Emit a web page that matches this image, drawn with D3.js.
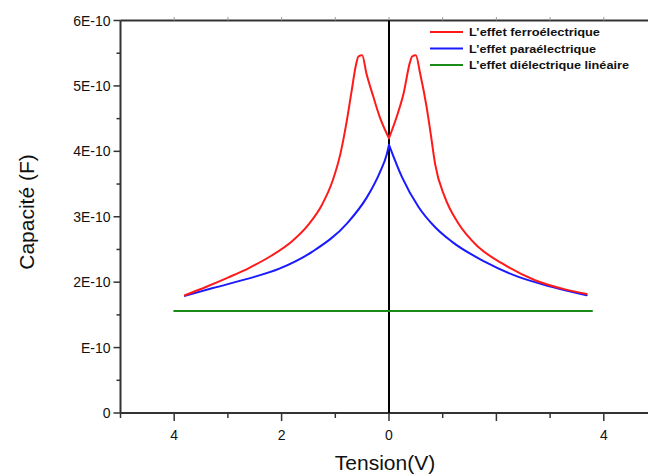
<!DOCTYPE html>
<html>
<head>
<meta charset="UTF-8">
<title>Capacite</title>
<script src="https://d3js.org/d3.v7.min.js"></script>
<style>
  body { margin: 0; background: #fff; }
  text { font-family: Arial, "Liberation Sans", sans-serif; fill: #111; }
  .legend text { font-family: "Liberation Sans", Arial, sans-serif; font-weight: bold; font-size: 11px; }
</style>
</head>
<body>
<div id="chart"></div>
<script>
// values in units of 1E-10 F
var ferroV = [-3.80, -3.40, -3.00, -2.60, -2.20, -1.80, -1.50, -1.25, -1.05, -0.90, -0.80, -0.70, -0.62, -0.57, -0.50, -0.42, -0.29, -0.17, 0.00, 0.14, 0.27, 0.39, 0.43, 0.50, 0.58, 0.70, 0.78, 0.86, 1.04, 1.29, 1.66, 2.10, 2.72, 3.28, 3.68];
var ferroC = [1.80, 1.93, 2.07, 2.22, 2.40, 2.63, 2.88, 3.18, 3.55, 3.98, 4.40, 4.90, 5.30, 5.45, 5.47, 5.19, 4.83, 4.52, 4.20, 4.52, 4.88, 5.36, 5.45, 5.47, 5.19, 4.68, 4.25, 3.80, 3.30, 2.90, 2.54, 2.29, 2.03, 1.89, 1.82];
var paraV = [-3.80, -3.28, -2.64, -2.03, -1.42, -0.78, -0.41, -0.17, -0.04, 0.00, 0.24, 0.55, 0.86, 1.17, 1.79, 2.41, 3.03, 3.68];
var paraC = [1.79, 1.91, 2.05, 2.21, 2.47, 2.90, 3.30, 3.68, 3.96, 4.10, 3.61, 3.15, 2.84, 2.62, 2.31, 2.08, 1.93, 1.80];
var linV = [-4.0, 3.78];
var linC = [1.56, 1.56];

var yTicks = [0, 1, 2, 3, 4, 5, 6];
var yTickLabels = ["0", "E-10", "2E-10", "3E-10", "4E-10", "5E-10", "6E-10"];
var xTicks = [-4, -2, 0, 4];
var xTickLabels = ["4", "2", "0", "4"];
var seriesNames = ["L\u2019effet ferroélectrique", "L\u2019effet paraélectrique", "L\u2019effet diélectrique linéaire"];
var seriesColors = ["#ff1a1a", "#1a1aff", "#1a8a1a"];

var W = 648, H = 476;
var svg = d3.select("#chart").append("svg").attr("width", W).attr("height", H);

var x = d3.scaleLinear().domain([-5, 5]).range([120.5, 657.5]);
var y = d3.scaleLinear().domain([0, 6]).range([413, 20.5]);

var axisColor = "#333";

// x axis bottom
var xAxis = svg.append("g").attr("transform", "translate(0,413)");
xAxis.append("line").attr("x1", x(-5)).attr("x2", W).attr("y1", 0).attr("y2", 0)
  .attr("stroke", axisColor).attr("stroke-width", 2);
d3.range(-5, 6).forEach(function(v) {
  var major = v % 2 === 0;
  xAxis.append("line").attr("x1", x(v)).attr("x2", x(v)).attr("y1", 0).attr("y2", major ? 8 : 5)
    .attr("stroke", axisColor).attr("stroke-width", 1.5);
});
xAxis.selectAll("text.tl").data(xTicks).enter().append("text")
  .attr("x", function(d) { return x(d); }).attr("y", 27)
  .attr("text-anchor", "middle").attr("font-size", "14px")
  .text(function(d, i) { return xTickLabels[i]; });

// top frame line
svg.append("line").attr("x1", x(-5)).attr("x2", W).attr("y1", 20.5).attr("y2", 20.5)
  .attr("stroke", axisColor).attr("stroke-width", 2);
d3.range(-4, 6).forEach(function(v) {
  svg.append("line").attr("x1", x(v)).attr("x2", x(v)).attr("y1", 20.5).attr("y2", 17)
    .attr("stroke", "#999").attr("stroke-width", 1);
});

// y axis
var yAxis = svg.append("g");
yAxis.append("line").attr("x1", x(-5)).attr("x2", x(-5)).attr("y1", y(0)).attr("y2", y(6))
  .attr("stroke", axisColor).attr("stroke-width", 2);
d3.range(0, 6.01, 0.5).forEach(function(v) {
  var major = Math.abs(v - Math.round(v)) < 1e-6;
  yAxis.append("line").attr("x1", x(-5)).attr("x2", x(-5) - (major ? 7 : 4))
    .attr("y1", y(v)).attr("y2", y(v)).attr("stroke", axisColor).attr("stroke-width", 1.5);
});
yAxis.selectAll("text.tl").data(yTicks).enter().append("text")
  .attr("x", x(-5) - 10).attr("y", function(d) { return y(d) + 5; })
  .attr("text-anchor", "end").attr("font-size", "14px")
  .text(function(d, i) { return yTickLabels[i]; });

// titles
svg.append("text").attr("x", 385).attr("y", 470).attr("text-anchor", "middle")
  .attr("font-size", "21px").text("Tension(V)");
svg.append("text").attr("transform", "translate(34,212) rotate(-90)").attr("text-anchor", "middle")
  .attr("font-size", "21px").text("Capacité (F)");

// vertical line at 0
svg.append("line").attr("x1", x(0)).attr("x2", x(0)).attr("y1", y(6)).attr("y2", y(0))
  .attr("stroke", "#000").attr("stroke-width", 2);

function series(vs, cs) { return vs.map(function(v, i) { return [v, cs[i]]; }); }
var line = d3.line().x(function(d) { return x(d[0]); }).y(function(d) { return y(d[1]); })
  .curve(d3.curveMonotoneX);

// draw each curve in two branches meeting at V = 0 so the cusp stays sharp
function drawSeries(pts, color) {
  var left = pts.filter(function(d) { return d[0] <= 0; });
  var right = pts.filter(function(d) { return d[0] >= 0; });
  var parts = (left.length > 1 && right.length > 1) ? [left, right] : [pts];
  parts.forEach(function(p) {
    svg.append("path").datum(p).attr("d", line).attr("fill", "none")
      .attr("stroke", color).attr("stroke-width", 2).attr("stroke-linecap", "round");
  });
}
drawSeries(series(linV, linC), seriesColors[2]);
drawSeries(series(paraV, paraC), seriesColors[1]);
drawSeries(series(ferroV, ferroC), seriesColors[0]);

// legend
var legendWidths = [131, 127, 160];
var legend = svg.append("g").attr("class", "legend");
seriesNames.forEach(function(name, i) {
  var ly = 32 + i * 16.5;
  legend.append("line").attr("x1", 430).attr("x2", 463).attr("y1", ly).attr("y2", ly)
    .attr("stroke", seriesColors[i]).attr("stroke-width", 2);
  legend.append("text").attr("x", 469).attr("y", ly + 4)
    .attr("textLength", legendWidths[i]).attr("lengthAdjust", "spacingAndGlyphs").text(name);
});
</script>
</body>
</html>
